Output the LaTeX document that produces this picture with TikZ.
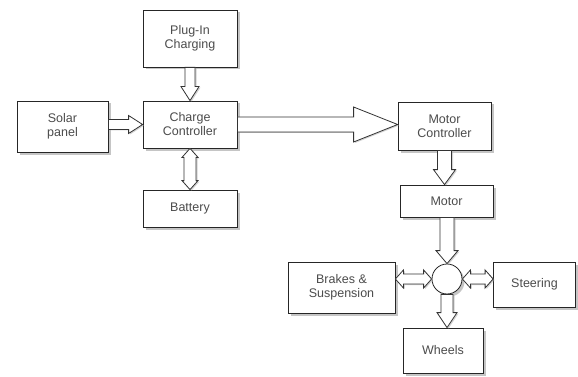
\documentclass[tikz,border=0pt]{standalone}
\usepackage{fontspec}
\setmainfont{Liberation Sans}
\usepackage{tikz}
\usetikzlibrary{calc,shadows}

% hollow block arrow: from, to, shaft half width, head half width, head length
\newcommand{\hollowarrow}[5]{%
  \coordinate (hb) at ($(#2)!#5!(#1)$);
  \draw[fatarr] ($(#1)!#3!90:(#2)$) -- ($(hb)!#3!90:(#2)$) -- ($(hb)!#4!90:(#2)$)
    -- (#2) -- ($(hb)!#4!-90:(#2)$) -- ($(hb)!#3!-90:(#2)$)
    -- ($(#1)!#3!-90:(#2)$) -- cycle;
}
% same, with a head at both ends
\newcommand{\hollowdarrow}[5]{%
  \coordinate (ha) at ($(#1)!#5!(#2)$);
  \coordinate (hb) at ($(#2)!#5!(#1)$);
  \draw[fatarr] (#1) -- ($(ha)!#4!90:(#2)$) -- ($(ha)!#3!90:(#2)$)
    -- ($(hb)!#3!90:(#2)$) -- ($(hb)!#4!90:(#2)$) -- (#2)
    -- ($(hb)!#4!-90:(#2)$) -- ($(hb)!#3!-90:(#2)$)
    -- ($(ha)!#3!-90:(#2)$) -- ($(ha)!#4!-90:(#2)$) -- cycle;
}

\begin{document}
\begin{tikzpicture}[
    x=1pt, y=-1pt,
    font=\fontsize{12.5}{14}\selectfont,
    box/.style={draw=black!85, fill=white, align=center, inner sep=2pt,
      text=black!70, line width=0.8pt,
      drop shadow={shadow xshift=2.5pt, shadow yshift=-2.5pt, fill=black!45}},
    fatarr/.style={draw=black!80, fill=white, line width=0.8pt,
      drop shadow={shadow xshift=1.5pt, shadow yshift=-1pt, fill=black!35}},
  ]
    \useasboundingbox (0,0) rectangle (578,377);

    \node[box, minimum width=94pt, minimum height=57pt] (plug) at (190,38.5)
      {Plug-In\\Charging};
    \node[box, minimum width=91pt, minimum height=51pt] (solar) at (62.5,126.5)
      {Solar\\panel};
    \node[box, minimum width=94pt, minimum height=47pt] (charge) at (190,124.5)
      {Charge\\Controller};
    \node[box, minimum width=94pt, minimum height=37pt] (battery) at (190,208.5)
      {Battery};

    \node[box, minimum width=93pt, minimum height=48pt] (motorctl) at (444.5,126)
      {Motor\\Controller};
    \node[box, minimum width=93pt, minimum height=32pt] (motor) at (446.5,201)
      {Motor};
    \node[box, circle, minimum size=30pt, inner sep=0pt] (hub) at (447,279) {};
    \node[box, minimum width=107pt, minimum height=51pt] (brakes) at (341.5,287.5)
      {Brakes \&\\Suspension};
    \node[box, minimum width=82pt, minimum height=45pt] (steering) at (534.5,284.5)
      {Steering};
    \node[box, minimum width=80pt, minimum height=45pt] (wheels) at (443,350.5)
      {Wheels};

    % charging side
    \hollowarrow{plug.south}{charge.north}{5pt}{9pt}{14pt}
    \hollowarrow{solar.east |- charge.west}{charge.west}{5pt}{9pt}{14pt}
    \hollowdarrow{charge.south}{battery.north}{6pt}{8pt}{9pt}
    \hollowarrow{charge.east}{charge.east -| motorctl.west}{7.5pt}{17.5pt}{44pt}

    % drive side
    \hollowarrow{motorctl.south}{motorctl.south |- motor.north}{7pt}{11pt}{15pt}
    \hollowarrow{hub.north |- motor.south}{hub.north}{7pt}{11pt}{13pt}
    \hollowdarrow{hub.west}{hub.west -| brakes.east}{5pt}{9pt}{8pt}
    \hollowdarrow{hub.east}{hub.east -| steering.west}{5pt}{9pt}{8pt}
    \hollowarrow{hub.south}{hub.south |- wheels.north}{6pt}{10pt}{15pt}
  \end{tikzpicture}
\end{document}
